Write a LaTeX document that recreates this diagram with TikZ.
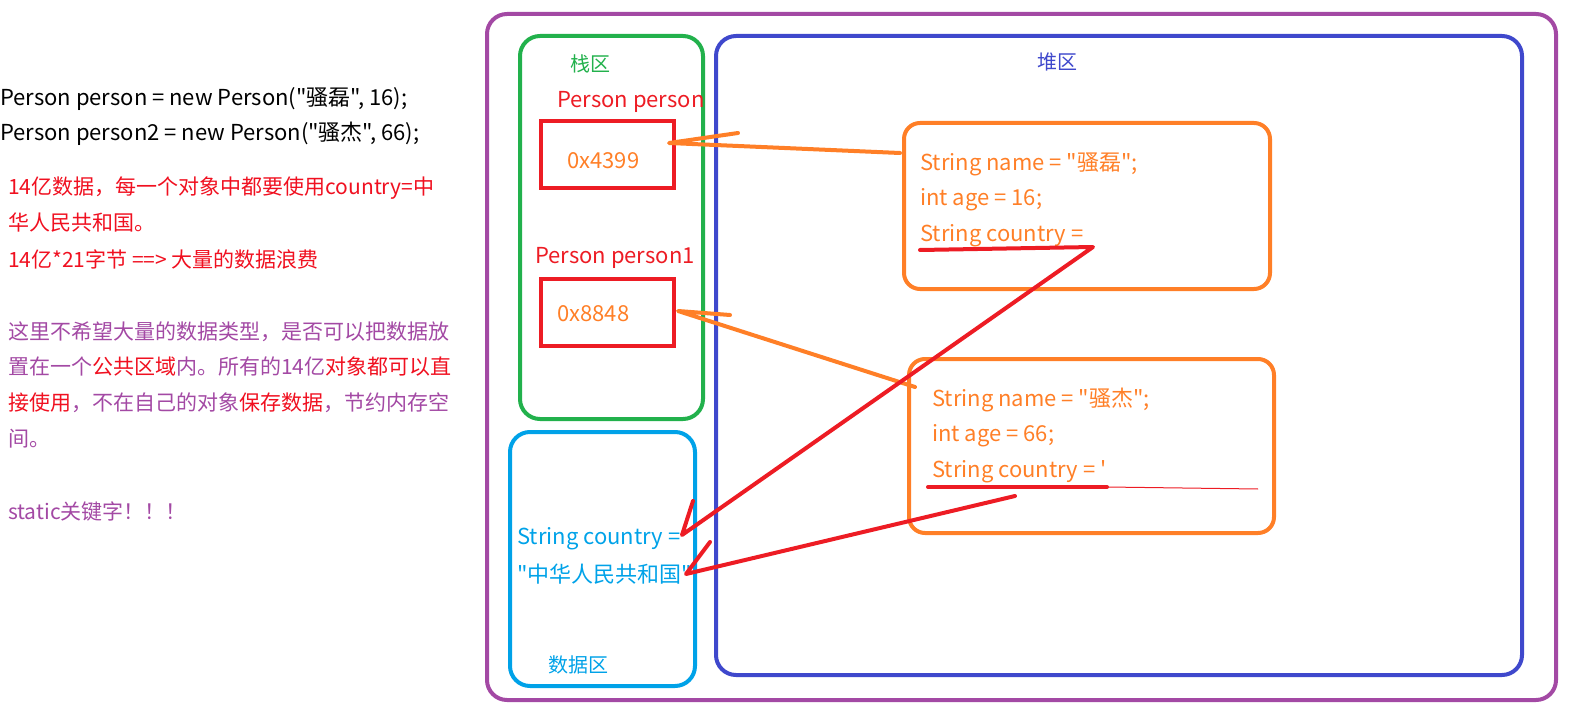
\documentclass[tikz,border=0pt]{standalone}
\usepackage{fontspec}
\newfontfamily\yahei{Noto Sans CJK SC}
\usetikzlibrary{positioning}
\definecolor{paintred}{HTML}{ED1C24}
\definecolor{paintorange}{HTML}{FF7F27}
\definecolor{paintpurple}{HTML}{A349A4}
\definecolor{paintgreen}{HTML}{22B14C}
\definecolor{paintblue}{HTML}{3F48CC}
\definecolor{paintcyan}{HTML}{00A2E8}
\definecolor{textred}{HTML}{F01020}

\begin{document}
\begin{tikzpicture}[x=1pt, y=-1pt,
		area/.style={draw=#1, line width=4pt, rounded corners=20pt, inner sep=0},
		ref/.style={draw=paintred, line width=4pt, inner sep=0,
			minimum width=133pt, minimum height=67pt},
		obj/.style={draw=paintorange, line width=4pt, rounded corners=16pt,
			inner sep=0, minimum width=366pt},
		txt/.style={anchor=west, inner sep=0, font=\yahei\fontsize{22}{22}\selectfont},
		note/.style={txt, font=\yahei\fontsize{21}{21}\selectfont},
		lbl/.style={inner sep=0, font=\yahei\fontsize{20}{20}\selectfont},
		pen/.style={line width=4pt, line cap=round, line join=round}
		]
		\useasboundingbox (0,0) rectangle (1569,714);
		
		% regions
		\node[area=paintpurple, minimum width=1069pt, minimum height=686pt] (memory) at (1021.5,357) {};
		\node[area=paintgreen, minimum width=183pt, minimum height=383pt] (stack) at (611.5,227.5) {};
		\node[area=paintblue, minimum width=806pt, minimum height=639pt] (heap) at (1119,355.5) {};
		\node[area=paintcyan, minimum width=185pt, minimum height=254pt] (data) at (602.5,559) {};
		
		\node[lbl, text=paintgreen] (stacklbl) at (590,64) {栈区};
		\node[lbl, text=paintblue] (heaplbl) at (1057,62) {堆区};
		\node[lbl, text=paintcyan] (datalbl) at (578,665) {数据区};
		
		% references on the stack
		\node[ref] (ref1) at (607.5,154.5) {};
		\node[ref] (ref2) at (607.5,312) {};
		\node[txt, text=paintred] (ref1name) at (557,102) {Person person};
		\node[txt, text=paintorange] (ref1addr) at (567,161) {0x4399};
		\node[txt, text=paintred] (ref2name) at (535,258) {Person person1};
		\node[txt, text=paintorange] (ref2addr) at (557,314) {0x8848};
		
		% objects on the heap
		\node[obj, minimum height=166pt] (obj1) at (1087,206) {};
		\node[obj, minimum height=174pt, minimum width=365pt] (obj2) at (1091.5,446) {};
		\node[txt, text=paintorange] (name1) at (920,164) {String name = "骚磊";};
		\node[txt, text=paintorange] (age1) at (920,200) {int age = 16;};
		\node[txt, text=paintorange] (country1) at (920,236) {String country =};
		\node[txt, text=paintorange] (name2) at (932,400) {String name = "骚杰";};
		\node[txt, text=paintorange] (age2) at (932,436) {int age = 66;};
		\node[txt, text=paintorange] (country2) at (932,472) {String country = '};
		
		% shared value
		\node[txt, text=paintcyan] (shared1) at (517,539) {String country =};
		\node[txt, text=paintcyan] (shared2) at (517,574) {"中华人民共和国"};
		
		% code and notes
		\node[txt] (code1) at (0,99) {Person person = new Person("骚磊", 16);};
		\node[txt] (code2) at (0,134) {Person person2 = new Person("骚杰", 66);};
		\node[note, text=textred] (note1) at (8,188) {14亿数据，每一个对象中都要使用country=中};
		\node[note, text=textred] (note2) at (8,223) {华人民共和国。};
		\node[note, text=textred] (note3) at (8,260) {14亿*21字节 ==> 大量的数据浪费};
		\node[note, text=paintpurple] (idea1) at (8,332) {这里不希望大量的数据类型，是否可以把数据放};
		\node[note, text=paintpurple] (idea2) at (8,367) {置在一个{\color{textred}公共区域}内。所有的14亿{\color{textred}对象都可以直}};
		\node[note, text=paintpurple] (idea3) at (8,403) {{\color{textred}接使用}，不在自己的对象{\color{textred}保存数据}，节约内存空};
		\node[note, text=paintpurple] (idea4) at (8,439) {间。};
		\node[note, text=paintpurple] (idea5) at (8,511) {static关键字！！！};
		
		% hand drawn pointers
		\coordinate (p1from) at (900,153);
		\coordinate (p1to) at (669,143);
		\coordinate (p1tip) at (738,133);
		\coordinate (p2from) at (915,387);
		\coordinate (p2to) at (678,311);
		\coordinate (p2tip) at (730,315);
		\coordinate (u1a) at (920,250);
		\coordinate (u1b) at (1093,247);
		\coordinate (u2a) at (928,487);
		\coordinate (u2b) at (1107,487);
		\coordinate (u2c) at (1258,489);
		\coordinate (s1to) at (682,535);
		\coordinate (s1tip) at (693,501);
		\coordinate (s2from) at (1015,496);
		\coordinate (s2to) at (686,574);
		\coordinate (s2tip) at (710,542);
		
		\draw[pen, paintorange] (p1from) -- (p1to) -- (p1tip);
		\draw[pen, paintorange] (p2from) -- (p2to) -- (p2tip);
		\draw[pen, paintred] (u1a) -- (u1b) -- (s1to) -- (s1tip);
		\draw[pen, paintred] (u2a) -- (u2b);
		\draw[paintred, line width=1pt] (u2b) -- (u2c);
		\draw[pen, paintred] (s2from) -- (s2to) -- (s2tip);
	\end{tikzpicture}
\end{document}
